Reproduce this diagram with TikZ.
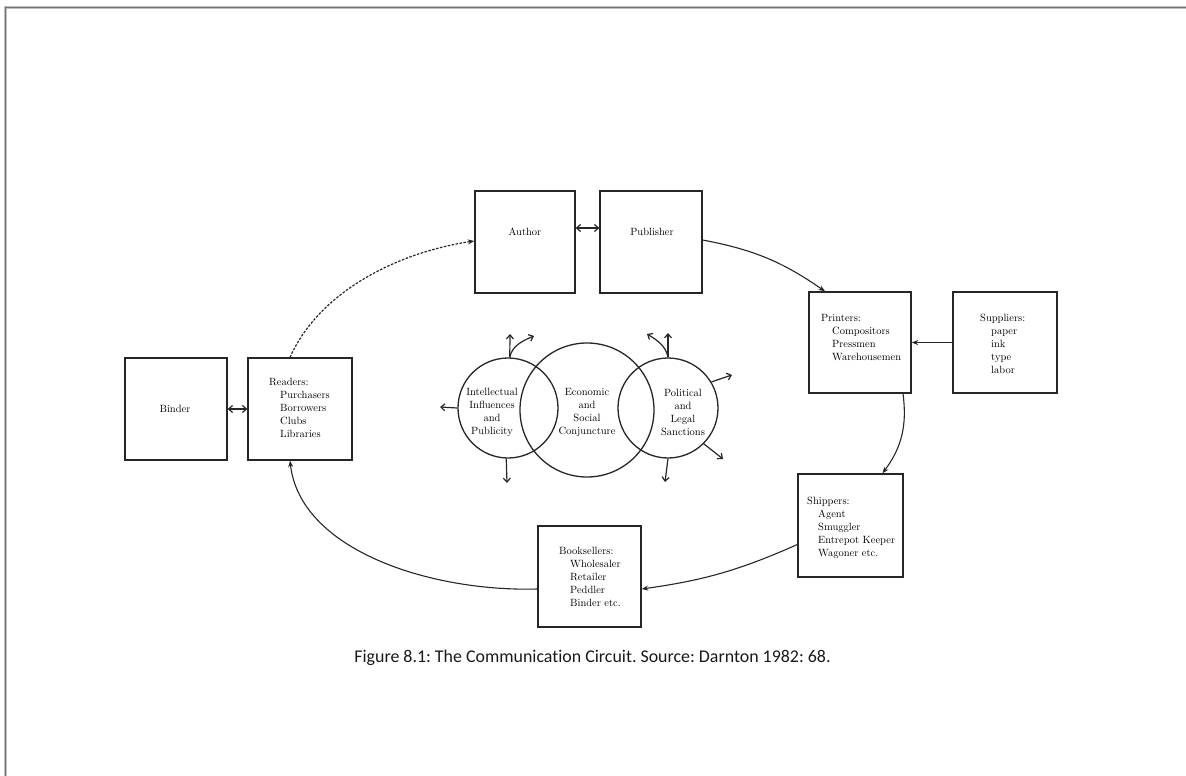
\documentclass[tikz,border=0pt]{standalone}
\usepackage{fontspec}
\newfontfamily\capfont[Ligatures=NoCommon]{Carlito}
\usetikzlibrary{arrows.meta}
\newcommand\myind{\hspace*{11pt}}
\frenchspacing
\begin{document}
\begin{tikzpicture}[x=1pt,y=-1pt,
  box/.style={draw=black!85,line width=1.3pt,inner sep=0pt,minimum height=102pt},
  txt/.style={font=\fontsize{10.5}{13}\selectfont,align=left,inner sep=0pt,anchor=west,text=black},
  ctxt/.style={font=\fontsize{10.5}{13}\selectfont,align=center,inner sep=0pt,text=black},
  circ/.style={draw=black!85,line width=1.3pt,circle,inner sep=0pt},
  arr/.style={-{Stealth[length=6.5pt,width=5pt]},line width=1.1pt,draw=black!85},
  carr/.style={-{Straight Barb[length=4pt,width=7pt]},line width=1.2pt,draw=black!85},
  dbl/.style={{Straight Barb[length=4pt,width=7pt]}-{Straight Barb[length=4pt,width=7pt]},line width=1.2pt,draw=black!85},
  dsh/.style={-{Stealth[length=6.5pt,width=5pt]},line width=1.2pt,draw=black!85,dash pattern=on 2.5pt off 1.5pt}
]
\useasboundingbox (0,0) rectangle (1186,776);
% page border
\draw[black!25,line width=3pt] (5,776) -- (5,8) -- (1186,8);
\draw[black!55,line width=1pt] (5,776) -- (5,8) -- (1186,8);

% boxes
\node[box,minimum width=100pt] (author) at (525,242) {};
\node[box,minimum width=102pt] (publisher) at (651,242) {};
\node[box,minimum width=102pt,minimum height=101pt] (printers) at (860,342.5) {};
\node[box,minimum width=104pt,minimum height=101pt] (suppliers) at (1005,342.5) {};
\node[box,minimum width=102pt] (binder) at (176,409) {};
\node[box,minimum width=104pt] (readers) at (300,409) {};
\node[box,minimum width=105pt,minimum height=103pt] (shippers) at (850.5,525.5) {};
\node[box,minimum width=103pt,minimum height=101pt] (booksellers) at (589.5,576.5) {};

% box texts
\node[ctxt] (authorT) at (525,232) {Author};
\node[ctxt] (publisherT) at (652,232) {Publisher};
\node[ctxt] (binderT) at (175,409) {Binder};
\node[txt] (printersT) at (821,337.5) {Printers:\\\myind Compositors\\\myind Pressmen\\\myind Warehousemen};
\node[txt] (suppliersT) at (980,343.5) {Suppliers:\\\myind paper\\\myind ink\\\myind type\\\myind labor};
\node[txt] (readersT) at (269,408) {Readers:\\\myind Purchasers\\\myind Borrowers\\\myind Clubs\\\myind Libraries};
\node[txt] (shippersT) at (807,528) {Shippers:\\\myind Agent\\\myind Smuggler\\\myind Entrepot Keeper\\\myind Wagoner etc.};
\node[txt] (booksellersT) at (559,576.5) {Booksellers:\\\myind Wholesaler\\\myind Retailer\\\myind Peddler\\\myind Binder etc.};

% circles
\node[circ,minimum size=134pt] (c2) at (587,410) {};
\node[circ,minimum size=100pt] (c1) at (508,408) {};
\node[circ,minimum size=100pt] (c3) at (668,408) {};
\node[ctxt] (c1T) at (492,412.5) {Intellectual\\Influences\\and\\Publicity};
\node[ctxt] (c2T) at (587,412.5) {Economic\\and\\Social\\Conjuncture};
\node[ctxt] (c3T) at (683,412.5) {Political\\and\\Legal\\Sanctions};

% circle arrows
\coordinate (l1) at (440,407);
\coordinate (l2) at (510,334);
\coordinate (l3) at (534,336);
\coordinate (l4) at (507,483);
\coordinate (r1) at (668,333);
\coordinate (r2) at (647,334);
\coordinate (r3) at (732,375);
\coordinate (r4) at (723,459);
\coordinate (r5) at (665,482);
\draw[carr] (c1.180) -- (l1);
\draw[carr] (c1.88) -- (l2);
\draw[carr] (c1.88) .. controls (512,346) and (522,341) .. (l3);
\draw[carr] (c1.268) -- (l4);
\draw[carr] (c3.90) -- (r1);
\draw[carr] (c3.90) .. controls (666,346) and (657,340) .. (r2);
\draw[carr] (c3.31) -- (r3);
\draw[carr] (c3.-45) -- (r4);
\draw[carr] (c3.270) -- (r5);

% connectors
\draw[dbl] ([yshift=14pt]author.east) -- ([yshift=14pt]publisher.west);
\draw[dbl] (binder.east) -- (readers.west);
\draw[arr] (suppliers.west) -- (printers.east);
\draw[arr] ([yshift=2pt]publisher.east) to[bend left=12] ([xshift=-35pt]printers.north);
\draw[arr] ([xshift=43pt]printers.south) to[bend left=22] ([xshift=32pt]shippers.north);
\draw[arr] ([yshift=-19pt]shippers.west) to[bend left=8] ([yshift=-12.5pt]booksellers.east);
\draw[arr] ([yshift=-12.5pt]booksellers.west) .. controls (430,592) and (300,550) .. ([xshift=-10pt]readers.south);
\draw[dsh] ([xshift=-10pt]readers.north) .. controls (320,290) and (400,252) .. ([yshift=1pt]author.west);

% caption
\node[font=\capfont\fontsize{17.9}{20}\selectfont,text=black!90,inner sep=0pt] (cap) at (592.5,658) {Figure 8.1: The Communication Circuit. Source: Darnton 1982: 68.};
\end{tikzpicture}
\end{document}
